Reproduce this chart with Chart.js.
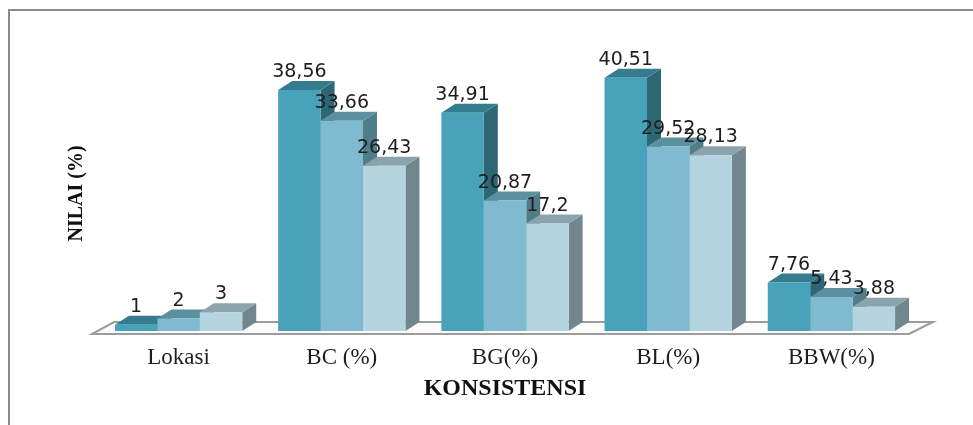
<!DOCTYPE html>
<html lang="id">
<head>
  <meta charset="UTF-8" />
  <title>Konsistensi</title>
  <script src="https://cdn.jsdelivr.net/npm/chart.js"></script>
  <style>
    html, body { margin: 0; padding: 0; background: #fff; overflow: hidden; }
    .wrap { position: relative; width: 973px; height: 425px; }
    .frame {
      position: absolute; left: 8px; top: 9px; width: 1000px; height: 500px;
      border-top: 2px solid #8a8a8a; border-left: 2px solid #8a8a8a;
    }
    canvas { position: absolute; left: 0; top: 0; }
  </style>
</head>
<body>
<div class="wrap">
  <div class="frame"></div>
  <canvas id="chart" width="973" height="425"></canvas>
</div>
<script>
  // data
  const categories = ['Lokasi', 'BC (%)', 'BG(%)', 'BL(%)', 'BBW(%)'];
  const series1 = [1, 38.56, 34.91, 40.51, 7.76];
  const series2 = [2, 33.66, 20.87, 29.52, 5.43];
  const series3 = [3, 26.43, 17.2, 28.13, 3.88];

  // front / top / side colours per series
  const frontColors = ['#48a2ba', '#7fbad0', '#b4d5e0'];
  const topColors = ['#347c8e', '#5c909f', '#8aa3ac'];
  const sideColors = ['#2e6774', '#517d89', '#72868d'];

  const DX = 14, DY = 9; // depth of the 3d bars

  const fmt = v => String(v).replace('.', ',');

  const bars3d = {
    id: 'bars3d',
    beforeDatasetsDraw(chart) {
      const { ctx, chartArea: a } = chart;
      ctx.save();

      // the floor slab
      ctx.beginPath();
      ctx.moveTo(a.left - 5, a.bottom + 3);
      ctx.lineTo(a.right - 4, a.bottom + 3);
      ctx.lineTo(a.right + 20, a.bottom - 9);
      ctx.lineTo(a.left + 17, a.bottom - 9);
      ctx.closePath();
      ctx.fillStyle = '#fbfbfb';
      ctx.fill();
      ctx.lineWidth = 2;
      ctx.strokeStyle = '#9c9c9c';
      ctx.stroke();

      // side and top faces, left to right; the fronts come on top later
      const metas = chart.data.datasets.map((d, i) => chart.getDatasetMeta(i));
      categories.forEach((c, j) => {
        metas.forEach((meta, i) => {
          const { x, y, base, width } = meta.data[j].getProps(['x', 'y', 'base', 'width'], true);
          const l = x - width / 2, r = x + width / 2;
          ctx.beginPath();
          ctx.moveTo(r, y);
          ctx.lineTo(r + DX, y - DY);
          ctx.lineTo(r + DX, base - DY);
          ctx.lineTo(r, base);
          ctx.closePath();
          ctx.fillStyle = sideColors[i];
          ctx.fill();
          ctx.beginPath();
          ctx.moveTo(l, y);
          ctx.lineTo(l + DX, y - DY);
          ctx.lineTo(r + DX, y - DY);
          ctx.lineTo(r, y);
          ctx.closePath();
          ctx.fillStyle = topColors[i];
          ctx.fill();
        });
      });
      ctx.restore();
    },
    afterDatasetsDraw(chart) {
      // value labels
      const ctx = chart.ctx;
      ctx.save();
      ctx.font = '19px "DejaVu Sans"';
      ctx.fillStyle = '#1e1e1e';
      ctx.textAlign = 'center';
      ctx.textBaseline = 'alphabetic';
      chart.data.datasets.forEach((ds, i) => {
        chart.getDatasetMeta(i).data.forEach((bar, j) => {
          ctx.fillText(fmt(ds.data[j]), bar.x, bar.y - 13);
        });
      });
      ctx.restore();
    }
  };

  const ctx = document.getElementById('chart').getContext('2d');
  new Chart(ctx, {
    type: 'bar',
    data: {
      labels: categories,
      datasets: [
        { data: series1, backgroundColor: frontColors[0] },
        { data: series2, backgroundColor: frontColors[1] },
        { data: series3, backgroundColor: frontColors[2] }
      ]
    },
    options: {
      responsive: false,
      animation: false,
      categoryPercentage: 0.78,
      barPercentage: 1.0,
      layout: { padding: { left: 61, right: 60, top: 56, bottom: 18 } },
      plugins: {
        legend: { display: false },
        tooltip: { enabled: false }
      },
      scales: {
        x: {
          grid: { display: false, drawTicks: false },
          border: { display: false },
          ticks: {
            padding: 13,
            color: '#1e1e1e',
            font: { family: '"Liberation Serif"', size: 23 }
          },
          title: {
            display: true,
            text: 'KONSISTENSI',
            color: '#111',
            font: { family: '"Liberation Serif"', size: 24, weight: 'bold' }
          },
          afterFit: s => { s.height = 76; }
        },
        y: {
          min: 0,
          max: 44,
          grid: { display: false, drawTicks: false },
          border: { display: false },
          ticks: { display: false },
          title: {
            display: true,
            text: 'NILAI (%)',
            color: '#111',
            font: { family: '"Liberation Serif"', size: 20, weight: 'bold' }
          },
          afterFit: s => { s.width = 36; }
        }
      }
    },
    plugins: [bars3d]
  });
</script>
</body>
</html>
